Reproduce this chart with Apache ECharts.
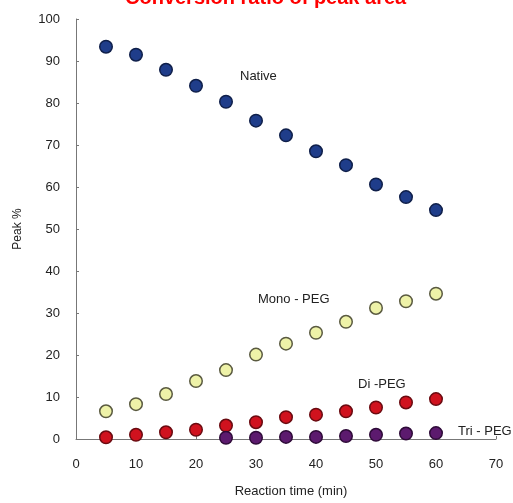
<!DOCTYPE html>
<html><head><meta charset="utf-8">
<script src="https://cdn.jsdelivr.net/npm/echarts@6/dist/echarts.min.js"></script>
<style>html,body{margin:0;padding:0;background:#fff}#c{width:513px;height:503px}</style>
</head><body><div id="c"></div>
<script>
var times = [5,10,15,20,25,30,35,40,45,50,55,60];
var native = [93.4,91.5,87.9,84.1,80.3,75.8,72.3,68.5,65.2,60.6,57.6,54.5];
var mono = [6.6,8.3,10.7,13.8,16.4,20.1,22.7,25.3,27.9,31.2,32.8,34.6];
var di = [0.4,1.0,1.6,2.2,3.2,4.0,5.2,5.8,6.6,7.5,8.7,9.5];
var triTimes = [25,30,35,40,45,50,55,60];
var tri = [0.3,0.3,0.5,0.5,0.7,1.0,1.3,1.4];
var xTicks = [0,10,20,30,40,50,60,70];
var yTicks = [0,10,20,30,40,50,60,70,80,90,100];

function pairs(xs, ys){ return xs.map(function(x,i){ return [x, ys[i]]; }); }
var font = '"Liberation Sans Narrow","Liberation Sans",Arial,sans-serif';
function sc(name, data, fill, border){
  return {name:name, type:'scatter', data:data, symbolSize:12.5,
    itemStyle:{color:fill, borderColor:border, borderWidth:1.5, opacity:1}};
}
var chart = echarts.init(document.getElementById('c'));
chart.setOption({
  animation:false,
  title:{text:'Conversion ratio of peak area', left:120, top:-17,
    textStyle:{color:'#ff0000', fontSize:20, fontWeight:'bold', fontFamily:'Arial,"Liberation Sans",sans-serif'}},
  grid:{left:76, right:17, top:19, bottom:62, containLabel:false},
  xAxis:{type:'value', min:0, max:70, interval:10,
    name:'Reaction time (min)', nameLocation:'middle', nameGap:46,
    nameTextStyle:{color:'#222', fontSize:13, fontFamily:font, padding:[0,0,0,10]},
    axisLine:{show:true, onZero:false, lineStyle:{color:'#777', width:1}},
    axisTick:{show:true, inside:true, length:3, lineStyle:{color:'#777'}},
    axisLabel:{color:'#222', fontSize:13, margin:19, fontFamily:font},
    splitLine:{show:false}},
  yAxis:{type:'value', min:0, max:100, interval:10,
    name:'Peak %', nameLocation:'middle', nameGap:52, nameRotate:90,
    nameTextStyle:{color:'#222', fontSize:12, fontFamily:font},
    axisLine:{show:true, lineStyle:{color:'#777', width:1}},
    axisTick:{show:true, inside:true, length:3, lineStyle:{color:'#777'}},
    axisLabel:{color:'#222', fontSize:13, margin:16, fontFamily:font},
    splitLine:{show:false}},
  series:[
    sc('Native', pairs(times, native), '#1f3d8a', '#0f1f4a'),
    sc('Mono - PEG', pairs(times, mono), '#eef2a8', '#5a5a40'),
    sc('Di -PEG', pairs(times, di), '#d0121e', '#6a0a10'),
    sc('Tri - PEG', pairs(triTimes, tri), '#5c1a6e', '#2e0a38')
  ],
  graphic:[
    {type:'text', left:240, top:70, style:{text:'Native', fill:'#222', font:'13px '+font}},
    {type:'text', left:258, top:293, style:{text:'Mono - PEG', fill:'#222', font:'13px '+font}},
    {type:'text', left:358, top:378, style:{text:'Di -PEG', fill:'#222', font:'13px '+font}},
    {type:'text', left:458, top:425, style:{text:'Tri - PEG', fill:'#222', font:'13px '+font}}
  ]
});
</script></body></html>
